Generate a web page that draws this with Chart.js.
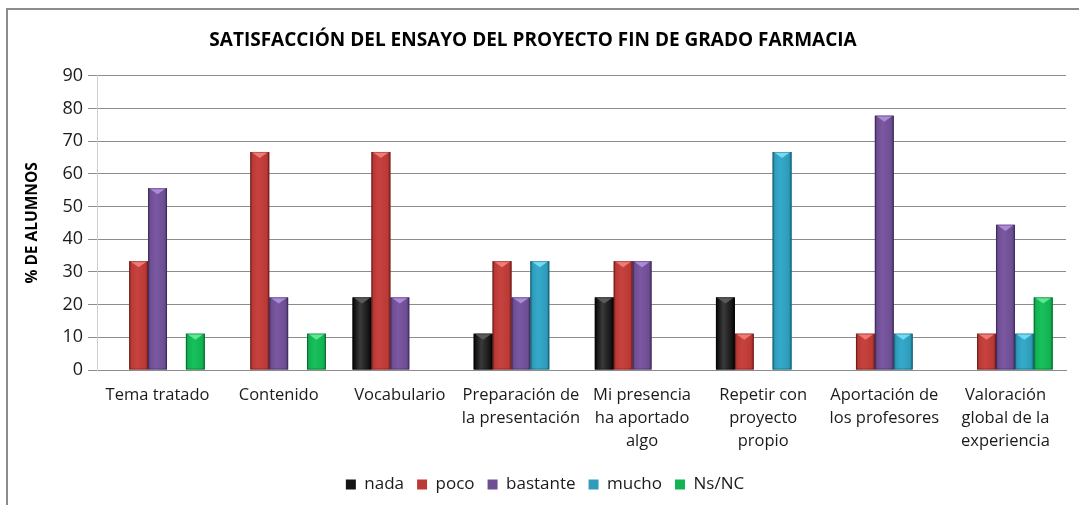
<!DOCTYPE html>
<html>
<head>
<meta charset="utf-8">
<script src="https://cdn.jsdelivr.net/npm/chart.js@4.4.1/dist/chart.umd.min.js"></script>
<style>
  html, body { margin: 0; padding: 0; background: #ffffff; }
  #wrap { width: 1079px; height: 505px; position: relative; }
</style>
</head>
<body>
<div id="wrap"><canvas id="c" width="1079" height="505"></canvas></div>
<script>
const categories = [
  'Tema tratado',
  'Contenido',
  'Vocabulario',
  ['Preparación de', 'la presentación'],
  ['Mi presencia', 'ha aportado', 'algo'],
  ['Repetir con', 'proyecto', 'propio'],
  ['Aportación de', 'los profesores'],
  ['Valoración', 'global de la', 'experiencia']
];
const seriesNames = ['nada', 'poco', 'bastante', 'mucho', 'Ns/NC'];
const nada     = [0,    0,    22.2, 11.1, 22.2, 22.2, 0,    0];
const poco     = [33.3, 66.7, 66.7, 33.3, 33.3, 11.1, 11.1, 11.1];
const bastante = [55.6, 22.2, 22.2, 22.2, 33.3, 0,    77.8, 44.4];
const mucho    = [0,    0,    0,    33.3, 0,    66.7, 11.1, 11.1];
const nsnc     = [11.1, 11.1, 0,    0,    0,    0,    0,    22.2];
const yTicks = [0, 10, 20, 30, 40, 50, 60, 70, 80, 90];

const palette = [
  { base: '#151515', edge: '#000000', mid: '#3a3a3a', top: '#5a5a5a' },
  { base: '#bb3a36', edge: '#8a2623', mid: '#c7423e', top: '#f07a74' },
  { base: '#6e4e93', edge: '#4e3570', mid: '#7a58a2', top: '#ad8ad8' },
  { base: '#2e9cba', edge: '#1d7590', mid: '#36aacb', top: '#74daf3' },
  { base: '#12b352', edge: '#0a8a3c', mid: '#18c05c', top: '#5ee893' }
];
const seriesValues = [nada, poco, bastante, mucho, nsnc];

const FONT = '"Open Sans", Lato, sans-serif';

const bevelPlugin = {
  id: 'bevel',
  beforeDraw(chart) {
    const ctx = chart.ctx;
    ctx.save();
    ctx.fillStyle = '#ffffff';
    ctx.fillRect(0, 0, chart.width, chart.height);
    ctx.strokeStyle = '#8c8c8c';
    ctx.lineWidth = 2;
    ctx.beginPath();
    ctx.moveTo(7, chart.height + 5);
    ctx.lineTo(7, 9);
    ctx.lineTo(chart.width + 5, 9);
    ctx.stroke();
    ctx.restore();
  },
  afterDatasetsDraw(chart) {
    const ctx = chart.ctx;
    chart.data.datasets.forEach((ds, di) => {
      const meta = chart.getDatasetMeta(di);
      const p = palette[di];
      meta.data.forEach((bar, i) => {
        if (!ds.data[i]) return;
        const w = bar.width;
        const x0 = bar.x - w / 2, x1 = bar.x + w / 2;
        const yT = bar.y, yB = bar.base;
        const g = ctx.createLinearGradient(x0, 0, x1, 0);
        g.addColorStop(0, p.edge);
        g.addColorStop(0.12, p.base);
        g.addColorStop(0.4, p.mid);
        g.addColorStop(0.85, p.base);
        g.addColorStop(1, p.edge);
        ctx.save();
        ctx.fillStyle = g;
        ctx.fillRect(x0, yT, w, yB - yT);
        const th = Math.min(w * 0.32, (yB - yT) / 2);
        ctx.fillStyle = p.top;
        ctx.beginPath();
        ctx.moveTo(x0 + 1, yT);
        ctx.lineTo(x1 - 1, yT);
        ctx.lineTo(bar.x, yT + th);
        ctx.closePath();
        ctx.fill();
        ctx.strokeStyle = 'rgba(0,0,0,0.25)';
        ctx.lineWidth = 1;
        ctx.strokeRect(x0 + 0.5, yT + 0.5, w - 1, yB - yT - 1);
        ctx.restore();
      });
    });
  }
};

const legendHeightPlugin = {
  id: 'legendHeight',
  afterInit(chart) {
    const lg = chart.legend;
    const fit = lg.fit;
    lg.fit = function () {
      fit.call(lg);
      lg.height = 42;
    };
    const draw = lg.draw;
    lg.draw = function () {
      const ctx = chart.ctx;
      ctx.save();
      ctx.translate(12, 0);
      draw.call(lg);
      ctx.restore();
    };
  }
};

new Chart(document.getElementById('c'), {
  type: 'bar',
  data: {
    labels: categories,
    datasets: seriesNames.map((n, i) => ({
      label: n,
      data: seriesValues[i],
      backgroundColor: palette[i].base,
      borderWidth: 0,
      categoryPercentage: 0.78,
      barPercentage: 1.0
    }))
  },
  options: {
    responsive: false,
    animation: false,
    devicePixelRatio: 1,
    layout: { padding: { left: 0, right: 13, top: 0, bottom: 0 } },
    plugins: {
      title: {
        display: true,
        text: 'SATISFACCIÓN DEL ENSAYO DEL PROYECTO FIN DE GRADO FARMACIA',
        color: '#000000',
        font: { family: FONT, size: 19, weight: 'bold' },
        padding: { top: 29, bottom: 24 }
      },
      legend: {
        position: 'bottom',
        labels: {
          color: '#1a1a1a',
          font: { family: FONT, size: 17 },
          boxWidth: 10,
          boxHeight: 10,
          padding: 13
        }
      },
      tooltip: { enabled: false }
    },
    scales: {
      x: {
        grid: { display: false },
        border: { display: true, color: '#8c8c8c', width: 1 },
        ticks: {
          color: '#1a1a1a',
          font: { family: FONT, size: 16.5, lineHeight: 1.4 },
          maxRotation: 0,
          autoSkip: false,
          padding: 6
        },
        afterFit(scale) { scale.height = 93; }
      },
      y: {
        min: 0,
        max: 90,
        afterBuildTicks(scale) { scale.ticks = yTicks.map(v => ({ value: v })); },
        grid: { color: '#8c8c8c', lineWidth: 1, tickLength: 9 },
        border: { display: true, color: '#d0d0d0', width: 1 },
        ticks: {
          color: '#1a1a1a',
          font: { family: FONT, size: 18 },
          padding: 5
        },
        title: {
          display: true,
          text: '% DE ALUMNOS',
          color: '#000000',
          font: { family: FONT, size: 15.5, weight: 'bold' },
          padding: { top: 23, bottom: 0 }
        },
        afterFit(scale) { scale.width = 97; }
      }
    }
  },
  plugins: [bevelPlugin, legendHeightPlugin]
});
</script>
</body>
</html>
